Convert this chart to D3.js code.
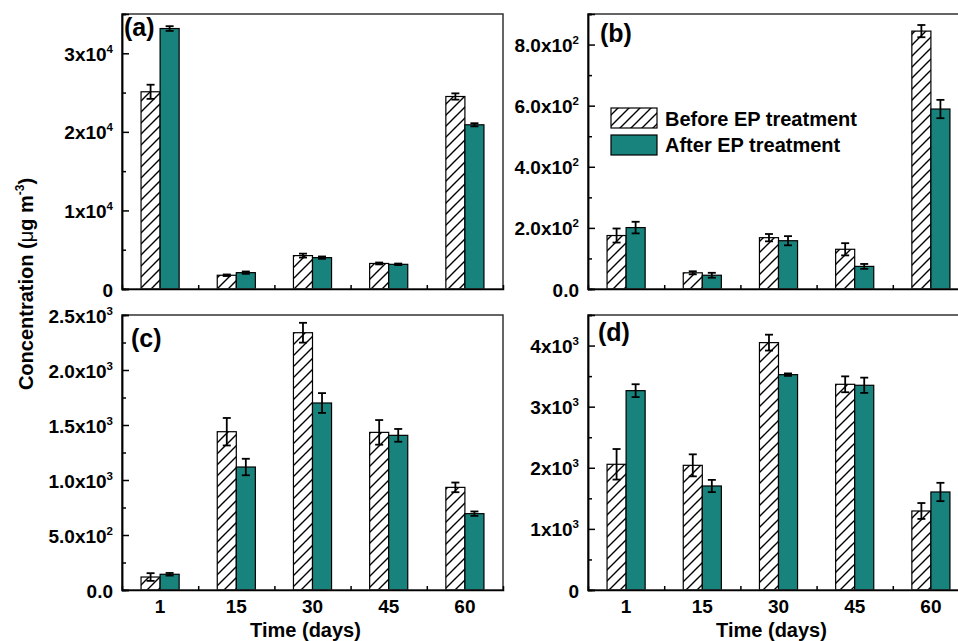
<!DOCTYPE html>
<html>
<head>
<meta charset="utf-8">
<script src="https://cdn.jsdelivr.net/npm/d3@7/dist/d3.min.js"></script>
<style>
  html, body { margin: 0; padding: 0; background: #fff; }
  svg { display: block; }
  text { font-family: "Liberation Sans", Arial, sans-serif; font-weight: bold; fill: #000; }
</style>
</head>
<body>
<script>
// ---------------- DATA ----------------
const categories = ["1", "15", "30", "45", "60"];
const seriesNames = ["Before EP treatment", "After EP treatment"];

const aBefore = [25100, 1750, 4250, 3250, 24500];
const aBeforeErr = [900, 100, 250, 120, 400];
const aAfter = [33150, 2080, 3990, 3140, 20900];
const aAfterErr = [300, 150, 150, 100, 200];

const bBefore = [175, 53, 168, 130, 844];
const bBeforeErr = [23, 5, 12, 20, 20];
const bAfter = [201, 45, 158, 74, 589];
const bAfterErr = [19, 8, 15, 8, 30];

const cBefore = [118, 1439, 2339, 1433, 933];
const cBeforeErr = [35, 125, 90, 112, 44];
const cAfter = [143, 1118, 1700, 1406, 694];
const cAfterErr = [12, 75, 90, 58, 20];

const dBefore = [2057, 2040, 4048, 3366, 1293];
const dBeforeErr = [250, 180, 130, 130, 130];
const dAfter = [3262, 1702, 3524, 3350, 1604];
const dAfterErr = [105, 100, 20, 125, 150];

const aTicks = [0, 10000, 20000, 30000];
const aTickLabels = ["0", "1x10^4", "2x10^4", "3x10^4"];
const bTicks = [0, 200, 400, 600, 800];
const bTickLabels = ["0.0", "2.0x10^2", "4.0x10^2", "6.0x10^2", "8.0x10^2"];
const cTicks = [0, 500, 1000, 1500, 2000, 2500];
const cTickLabels = ["0.0", "5.0x10^2", "1.0x10^3", "1.5x10^3", "2.0x10^3", "2.5x10^3"];
const dTicks = [0, 1000, 2000, 3000, 4000];
const dTickLabels = ["0", "1x10^3", "2x10^3", "3x10^3", "4x10^3"];

const panelLetters = ["(a)", "(b)", "(c)", "(d)"];
const yLabelParts = ["Concentration (", "\u03bc", "g m", "-3", ")"];
const xLabel = "Time (days)";

// ---------------- LAYOUT ----------------
const W = 958, H = 641;
const TEAL = "#18837c";
const PW = 381;
const panels = [
  { before: aBefore, beforeErr: aBeforeErr, after: aAfter, afterErr: aAfterErr, ymax: 35000, ticks: aTicks, labels: aTickLabels, minorStep: 5000,
    left: 122, top: 14, bottom: 289, lx: 124, ly: 36, xlabels: false },
  { before: bBefore, beforeErr: bBeforeErr, after: bAfter, afterErr: bAfterErr, ymax: 900, ticks: bTicks, labels: bTickLabels, minorStep: 100,
    left: 588, top: 14, bottom: 289, lx: 600, ly: 42, xlabels: false, legend: true },
  { before: cBefore, beforeErr: cBeforeErr, after: cAfter, afterErr: cAfterErr, ymax: 2500, ticks: cTicks, labels: cTickLabels, minorStep: 250,
    left: 122, top: 315, bottom: 590, lx: 131, ly: 347, xlabels: true },
  { before: dBefore, beforeErr: dBeforeErr, after: dAfter, afterErr: dAfterErr, ymax: 4500, ticks: dTicks, labels: dTickLabels, minorStep: 500,
    left: 588, top: 315, bottom: 590, lx: 598, ly: 341, xlabels: true }
];

const svg = d3.select("body").append("svg").attr("width", W).attr("height", H);

const defs = svg.append("defs");
const pat = defs.append("pattern").attr("id", "hatch").attr("patternUnits", "userSpaceOnUse")
  .attr("width", 11).attr("height", 11);
pat.append("rect").attr("width", 11).attr("height", 11).attr("fill", "#fff");
pat.append("path").attr("d", "M-1,12 L12,-1 M-3,3 L3,-3 M8,14 L14,8")
  .attr("stroke", "#000").attr("stroke-width", 1.4);

function addSupText(sel, str, supSize, supDy) {
  const parts = str.split("^");
  sel.append("tspan").text(parts[0]);
  if (parts.length > 1) {
    sel.append("tspan").attr("font-size", supSize).attr("dy", supDy).text(parts[1]);
  }
}

panels.forEach((p, i) => {
  const g = svg.append("g");
  const x = d3.scaleBand().domain(categories).range([p.left, p.left + PW]).padding(0);
  const y = d3.scaleLinear().domain([0, p.ymax]).range([p.bottom, p.top]);
  const bw = x.bandwidth() * 0.25;

  const rows = categories.map((c, k) => ({ c, b: p.before[k], be: p.beforeErr[k], a: p.after[k], ae: p.afterErr[k] }));
  const cx = c => x(c) + x.bandwidth() / 2;

  g.selectAll(".bb").data(rows).enter().append("rect")
    .attr("x", d => cx(d.c) - bw).attr("width", bw)
    .attr("y", d => y(d.b)).attr("height", d => y(0) - y(d.b))
    .attr("fill", "url(#hatch)").attr("stroke", "#000").attr("stroke-width", 1.2);
  g.selectAll(".ab").data(rows).enter().append("rect")
    .attr("x", d => cx(d.c)).attr("width", bw)
    .attr("y", d => y(d.a)).attr("height", d => y(0) - y(d.a))
    .attr("fill", TEAL).attr("stroke", "#000").attr("stroke-width", 1.2);

  const errs = [];
  rows.forEach(d => {
    errs.push({ x: cx(d.c) - bw / 2, v: d.b, e: d.be });
    errs.push({ x: cx(d.c) + bw / 2, v: d.a, e: d.ae });
  });
  const eg = g.selectAll(".err").data(errs).enter().append("g").attr("stroke", "#000").attr("stroke-width", 1.8);
  eg.append("line").attr("x1", d => d.x).attr("x2", d => d.x).attr("y1", d => y(d.v - d.e)).attr("y2", d => y(d.v + d.e));
  eg.append("line").attr("x1", d => d.x - 4).attr("x2", d => d.x + 4).attr("y1", d => y(d.v + d.e)).attr("y2", d => y(d.v + d.e));
  eg.append("line").attr("x1", d => d.x - 4).attr("x2", d => d.x + 4).attr("y1", d => y(d.v - d.e)).attr("y2", d => y(d.v - d.e));

  g.append("rect").attr("x", p.left).attr("y", p.top).attr("width", PW).attr("height", p.bottom - p.top)
    .attr("fill", "none").attr("stroke", "#333").attr("stroke-width", 1.5);

  const minor = d3.range(0, p.ymax + 1e-9, p.minorStep).filter(v => !p.ticks.includes(v));
  const yAxisMinor = d3.axisLeft(y).tickValues(minor).tickSize(-4).tickFormat("");
  const yAxisMajor = d3.axisLeft(y).tickValues(p.ticks).tickSize(-7).tickFormat("");
  const ga1 = g.append("g").attr("transform", `translate(${p.left},0)`).call(yAxisMinor);
  const ga2 = g.append("g").attr("transform", `translate(${p.left},0)`).call(yAxisMajor);
  [ga1, ga2].forEach(ga => {
    ga.select(".domain").attr("stroke", "#000").attr("stroke-width", 1.5);
    ga.selectAll(".tick line").attr("stroke", "#000").attr("stroke-width", 1.5);
  });

  p.ticks.forEach((t, k) => {
    const tx = g.append("text").attr("x", p.left - 9).attr("y", y(t) + 7.5)
      .attr("text-anchor", "end").attr("font-size", 19);
    addSupText(tx, p.labels[k], 11.5, -8);
  });

  const xb = d3.scaleLinear().domain([0, categories.length]).range([p.left, p.left + PW]);
  const bounds = d3.range(1, categories.length);
  const xa = d3.axisBottom(xb).tickValues(bounds).tickSize(-4).tickFormat("");
  const gx = g.append("g").attr("transform", `translate(0,${p.bottom})`).call(xa);
  gx.select(".domain").attr("stroke", "#000").attr("stroke-width", 1.5);
  gx.selectAll(".tick line").attr("stroke", "#000").attr("stroke-width", 1.5);

  if (p.xlabels) {
    g.selectAll(".xl").data(categories).enter().append("text")
      .attr("x", d => cx(d)).attr("y", 613).attr("text-anchor", "middle").attr("font-size", 19).text(d => d);
    g.append("text").attr("x", p.left + PW / 2 - 7).attr("y", 637).attr("text-anchor", "middle")
      .attr("font-size", 20).text(xLabel);
  }

  g.append("text").attr("x", p.lx).attr("y", p.ly).attr("font-size", 25).text(panelLetters[i]);

  if (p.legend) {
    const lg = g.append("g");
    lg.append("rect").attr("x", 611).attr("y", 108).attr("width", 46).attr("height", 20)
      .attr("fill", "url(#hatch)").attr("stroke", "#000").attr("stroke-width", 1.2);
    lg.append("rect").attr("x", 611).attr("y", 135).attr("width", 46).attr("height", 20)
      .attr("fill", TEAL).attr("stroke", "#000").attr("stroke-width", 1.2);
    lg.append("text").attr("x", 665).attr("y", 126).attr("font-size", 20).text(seriesNames[0]);
    lg.append("text").attr("x", 665).attr("y", 152).attr("font-size", 20).text(seriesNames[1]);
  }
});

// y axis label
const yl = svg.append("text").attr("transform", "translate(33,284) rotate(-90)")
  .attr("text-anchor", "middle").attr("font-size", 20);
yl.append("tspan").text(yLabelParts[0]);
yl.append("tspan").attr("font-weight", "normal").text(yLabelParts[1]);
yl.append("tspan").text(yLabelParts[2]);
yl.append("tspan").attr("font-size", 12).attr("dy", -9).text(yLabelParts[3]);
yl.append("tspan").attr("dy", 9).text(yLabelParts[4]);
</script>
</body>
</html>
